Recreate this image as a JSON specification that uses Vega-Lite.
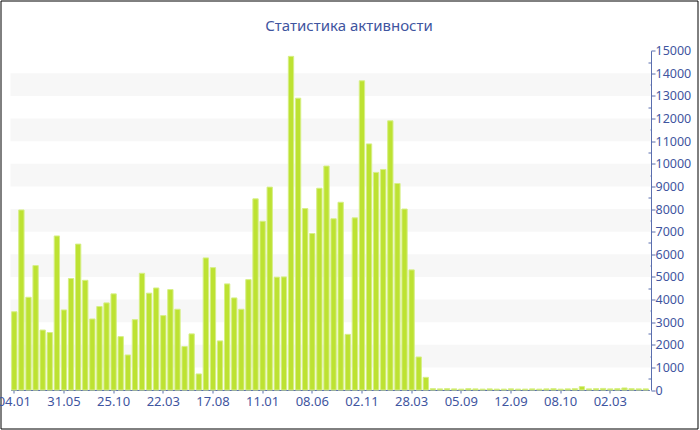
{
  "$schema": "https://vega.github.io/schema/vega-lite/v6.json",
  "width": 697,
  "height": 428,
  "autosize": {"type": "none"},
  "padding": {"left": 0.5, "top": 0.5, "right": 2.5, "bottom": 1.5},
  "background": "white",
  "config": {"view": {"stroke": "#000000", "strokeWidth": 1}, "font": "Noto Sans"},
  "title": {"text": "Статистика активности", "font": "Noto Sans", "fontSize": 15, "fontWeight": "normal", "color": "#3f55a0", "anchor": "middle", "offset": -45, "baseline": "alphabetic"},
  "datasets": {
    "bands": [
      {"lo": 1000, "hi": 2000}, {"lo": 3000, "hi": 4000}, {"lo": 5000, "hi": 6000},
      {"lo": 7000, "hi": 8000}, {"lo": 9000, "hi": 10000}, {"lo": 11000, "hi": 12000},
      {"lo": 13000, "hi": 14000}
    ],
    "bars": [
      {"i": 0, "v": 3460}, {"i": 1, "v": 7960}, {"i": 2, "v": 4100}, {"i": 3, "v": 5500},
      {"i": 4, "v": 2650}, {"i": 5, "v": 2540}, {"i": 6, "v": 6810}, {"i": 7, "v": 3540},
      {"i": 8, "v": 4930}, {"i": 9, "v": 6450}, {"i": 10, "v": 4850}, {"i": 11, "v": 3140},
      {"i": 12, "v": 3690}, {"i": 13, "v": 3850}, {"i": 14, "v": 4250}, {"i": 15, "v": 2360},
      {"i": 16, "v": 1550}, {"i": 17, "v": 3110}, {"i": 18, "v": 5160}, {"i": 19, "v": 4280},
      {"i": 20, "v": 4510}, {"i": 21, "v": 3290}, {"i": 22, "v": 4440}, {"i": 23, "v": 3570},
      {"i": 24, "v": 1920}, {"i": 25, "v": 2480}, {"i": 26, "v": 710}, {"i": 27, "v": 5840},
      {"i": 28, "v": 5410}, {"i": 29, "v": 2170}, {"i": 30, "v": 4690}, {"i": 31, "v": 4070},
      {"i": 32, "v": 3570}, {"i": 33, "v": 4880}, {"i": 34, "v": 8450}, {"i": 35, "v": 7460},
      {"i": 36, "v": 8970}, {"i": 37, "v": 4990}, {"i": 38, "v": 5000}, {"i": 39, "v": 14750},
      {"i": 40, "v": 12900}, {"i": 41, "v": 8020}, {"i": 42, "v": 6920}, {"i": 43, "v": 8920},
      {"i": 44, "v": 9900}, {"i": 45, "v": 7570}, {"i": 46, "v": 8300}, {"i": 47, "v": 2460},
      {"i": 48, "v": 7610}, {"i": 49, "v": 13670}, {"i": 50, "v": 10880}, {"i": 51, "v": 9620},
      {"i": 52, "v": 9750}, {"i": 53, "v": 11900}, {"i": 54, "v": 9130}, {"i": 55, "v": 8000},
      {"i": 56, "v": 5310}, {"i": 57, "v": 1460}, {"i": 58, "v": 560}, {"i": 59, "v": 60},
      {"i": 60, "v": 50}, {"i": 61, "v": 60}, {"i": 62, "v": 50}, {"i": 63, "v": 40},
      {"i": 64, "v": 60}, {"i": 65, "v": 50}, {"i": 66, "v": 40}, {"i": 67, "v": 50},
      {"i": 68, "v": 40}, {"i": 69, "v": 40}, {"i": 70, "v": 50}, {"i": 71, "v": 40},
      {"i": 72, "v": 40}, {"i": 73, "v": 50}, {"i": 74, "v": 40}, {"i": 75, "v": 50},
      {"i": 76, "v": 60}, {"i": 77, "v": 40}, {"i": 78, "v": 50}, {"i": 79, "v": 60},
      {"i": 80, "v": 150}, {"i": 81, "v": 50}, {"i": 82, "v": 60}, {"i": 83, "v": 70},
      {"i": 84, "v": 50}, {"i": 85, "v": 60}, {"i": 86, "v": 90}, {"i": 87, "v": 60},
      {"i": 88, "v": 50}, {"i": 89, "v": 50}
    ]
  },
  "layer": [
    {
      "data": {"name": "bands"},
      "mark": {"type": "rect", "color": "#f7f7f7"},
      "encoding": {
        "x": {"datum": 0, "type": "quantitative", "scale": {"domain": [0, 1], "range": [10, 650]}, "axis": null},
        "x2": {"datum": 1},
        "y": {
          "field": "lo", "type": "quantitative",
          "scale": {"domain": [0, 15000], "range": [389.5, 50.2], "nice": false},
          "axis": {
            "orient": "right", "offset": -46.5,
            "values": [0, 500, 1000, 1500, 2000, 2500, 3000, 3500, 4000, 4500, 5000, 5500, 6000, 6500, 7000, 7500, 8000, 8500, 9000, 9500, 10000, 10500, 11000, 11500, 12000, 12500, 13000, 13500, 14000, 14500, 15000],
            "format": "d",
            "labelExpr": "datum.value % 1000 ? '' : datum.label",
            "tickSize": {"condition": {"test": "datum.value % 1000 === 0", "value": 4}, "value": -3},
            "domainColor": "#5a6eae", "tickColor": "#5a6eae",
            "labelColor": "#3f55a0", "labelFont": "Noto Sans", "labelFontSize": 12.5, "labelPadding": 0,
            "title": null, "grid": false
          }
        },
        "y2": {"field": "hi"}
      }
    },
    {
      "data": {"name": "bars"},
      "mark": {"type": "bar", "color": "#bde232", "stroke": "#d6ef86", "strokeWidth": 1},
      "encoding": {
        "x": {
          "field": "i", "type": "ordinal",
          "scale": {"range": [10.25, 648.8], "paddingInner": 0.25, "paddingOuter": 0.125},
          "axis": {
            "orient": "bottom", "offset": -38.5,
            "values": [0, 7, 14, 21, 28, 35, 42, 49, 56, 63, 70, 77, 84],
            "labelExpr": "['04.01','31.05','25.10','22.03','17.08','11.01','08.06','02.11','28.03','05.09','12.09','08.10','02.03'][datum.value/7]",
            "labelAngle": 0, "tickSize": 3, "domainColor": "#5a6eae", "tickColor": "#5a6eae",
            "labelColor": "#3f55a0", "labelFont": "Noto Sans", "labelFontSize": 13, "labelPadding": 2,
            "title": null, "grid": false
          }
        },
        "y": {
          "field": "v", "type": "quantitative",
          "scale": {"domain": [0, 15000], "range": [389.5, 50.2], "nice": false},
          "axis": {
            "orient": "right", "offset": -46.5,
            "values": [0, 500, 1000, 1500, 2000, 2500, 3000, 3500, 4000, 4500, 5000, 5500, 6000, 6500, 7000, 7500, 8000, 8500, 9000, 9500, 10000, 10500, 11000, 11500, 12000, 12500, 13000, 13500, 14000, 14500, 15000],
            "format": "d",
            "labelExpr": "datum.value % 1000 ? '' : datum.label",
            "tickSize": {"condition": {"test": "datum.value % 1000 === 0", "value": 4}, "value": -3},
            "domainColor": "#5a6eae", "tickColor": "#5a6eae",
            "labelColor": "#3f55a0", "labelFont": "Noto Sans", "labelFontSize": 12.5, "labelPadding": 0,
            "title": null, "grid": false
          }
        }
      }
    }
  ],
  "resolve": {"scale": {"x": "independent"}}
}
